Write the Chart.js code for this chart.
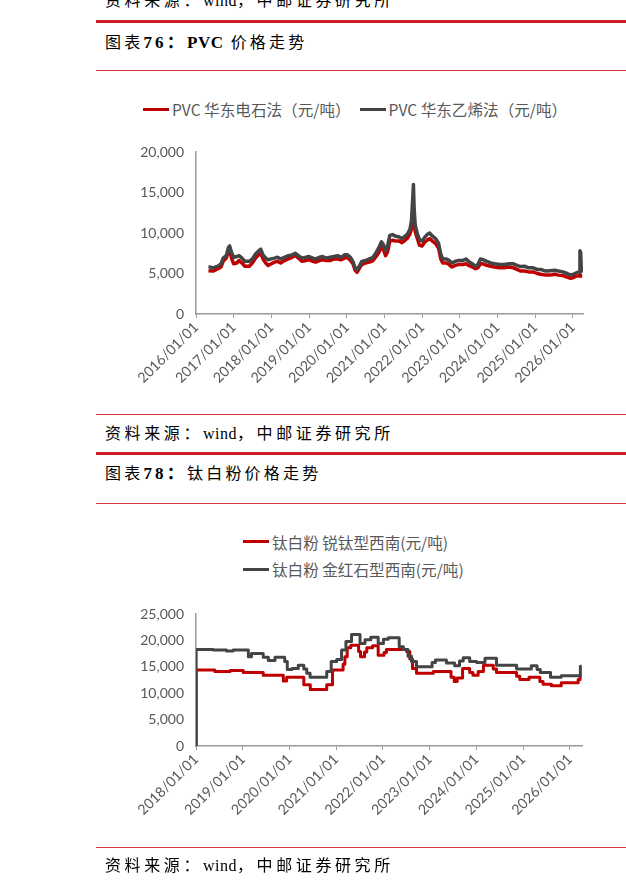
<!DOCTYPE html>
<html lang="zh-CN">
<head>
<meta charset="UTF-8">
<title>PVC / 钛白粉价格走势</title>
<script src="https://cdn.jsdelivr.net/npm/chart.js@4"></script>
<style>
  * { margin: 0; padding: 0; box-sizing: border-box; }
  body {
    width: 626px; height: 888px; overflow: hidden;
    background: #fff; position: relative;
    font-family: 'Liberation Serif', 'Noto Sans CJK SC', serif;
    color: #000;
  }
  .rule { position: absolute; left: 96px; right: 0; }
  .thick { height: 3px; background: #cc1d25; }
  .thin { height: 1px; background: #d9363e; }
  .note, .title {
    position: absolute; left: 105px;
    font-size: 16px; line-height: 18px; white-space: nowrap;
  }
  .note { letter-spacing: 3.6px; }
  .title { letter-spacing: 3.2px; }
  .note span, .title span { letter-spacing: 0.5px; }
  .title b { font-size: 17px; }
  .legend {
    position: absolute;
    font-family: 'Noto Sans CJK SC', sans-serif; font-size: 15.6px; color: #595959;
  }
  .legend.row { display: flex; gap: 9px; }
  .item { display: flex; align-items: center; white-space: nowrap; height: 18px; }
  .legend.col .item { height: 27.6px; }
  .item i { display: inline-block; width: 26px; height: 3px; margin-right: 3px; }
  .chart { position: absolute; left: 120px; width: 480px; }
</style>
</head>
<body>
  <div class="note" style="top:-8px">资料来源：<span>wind</span>，中邮证券研究所</div>
  <div class="rule thick" style="top:20px"></div>
  <div class="title" style="top:34px">图表<b>76：<span>PVC</span></b> 价格走势</div>
  <div class="rule thin" style="top:70px"></div>

  <div class="legend row" style="left:143px; top:100px">
    <div class="item"><i style="background:#c00000"></i>PVC 华东电石法（元/吨）</div>
    <div class="item"><i style="background:#444"></i>PVC 华东乙烯法（元/吨）</div>
  </div>
  <div class="chart" style="top:130px; height:270px"><canvas id="pvcChart"></canvas></div>

  <div class="rule thin" style="top:414px"></div>
  <div class="note" style="top:425px">资料来源：<span>wind</span>，中邮证券研究所</div>
  <div class="rule thick" style="top:452px"></div>
  <div class="title" style="top:465px">图表<b>78：</b>钛白粉价格走势</div>
  <div class="rule thin" style="top:503px"></div>

  <div class="legend col" style="left:243px; top:528px">
    <div class="item"><i style="background:#c00000"></i>钛白粉 锐钛型西南(元/吨)</div>
    <div class="item"><i style="background:#444"></i>钛白粉 金红石型西南(元/吨)</div>
  </div>
  <div class="chart" style="top:595px; height:255px"><canvas id="tio2Chart"></canvas></div>

  <div class="rule thin" style="top:847px"></div>
  <div class="note" style="top:857px">资料来源：<span>wind</span>，中邮证券研究所</div>

<script>
// ---- PVC (元/吨) ----
const pvcDates = [
  '2016-05-01','2016-06-14','2016-08-01','2016-08-30','2016-09-20','2016-10-20','2016-11-10','2016-11-22','2016-12-10',
  '2017-01-01','2017-02-01','2017-02-22','2017-03-22','2017-04-20','2017-06-01','2017-07-01','2017-08-01','2017-08-30','2017-09-20','2017-10-12','2017-11-07','2017-12-01',
  '2018-01-01','2018-02-01','2018-03-01','2018-04-01','2018-05-08','2018-06-14','2018-07-20','2018-08-20','2018-09-20','2018-10-26','2018-12-01',
  '2019-01-01','2019-02-07','2019-03-07','2019-04-12','2019-05-12','2019-06-18','2019-07-24','2019-08-30','2019-10-05','2019-11-10','2019-12-10',
  '2020-01-08','2020-02-06','2020-03-01','2020-03-22','2020-04-10','2020-05-01','2020-05-26','2020-07-01','2020-08-07','2020-09-12','2020-10-12','2020-11-07','2020-12-02','2020-12-20',
  '2021-01-12','2021-02-01','2021-02-22','2021-03-22','2021-04-20','2021-05-26','2021-06-20','2021-07-20','2021-08-14','2021-09-06','2021-09-20','2021-10-01','2021-10-09','2021-10-16','2021-10-26','2021-11-14','2021-12-06',
  '2022-01-01','2022-01-22','2022-02-18','2022-03-14','2022-04-12','2022-05-12','2022-06-10','2022-07-01','2022-07-20','2022-08-25','2022-09-20','2022-10-16','2022-11-18','2022-12-20',
  '2023-02-01','2023-03-01','2023-03-28','2023-05-01','2023-06-03','2023-06-25','2023-07-20','2023-08-14','2023-09-20','2023-10-26','2023-12-05',
  '2024-01-20','2024-03-07','2024-04-20','2024-06-03','2024-07-08','2024-08-14','2024-09-20','2024-10-26','2024-12-12',
  '2025-01-20','2025-02-24','2025-04-12','2025-05-26','2025-07-08','2025-08-14','2025-09-27','2025-11-07','2025-12-10',
  '2026-01-08','2026-02-06','2026-03-04','2026-03-11','2026-03-18','2026-03-25','2026-04-02'
];
const pvcCarbide = [
  5350,5300,5600,5800,6500,6900,7700,7900,6900,
  6200,6300,6600,6300,5900,5900,6300,6900,7300,7500,6800,6300,6000,
  6200,6400,6500,6300,6600,6800,7000,7200,6900,6500,6600,
  6700,6500,6400,6600,6700,6600,6600,6800,6800,6700,6900,
  7000,6600,6200,5400,5150,5600,6100,6300,6400,6600,7100,7600,8300,8000,
  7200,7700,9000,9100,9000,9000,8800,9100,9400,9900,10500,11500,12200,11500,10200,9400,8500,
  8400,8800,9100,9300,9000,8700,8100,6800,6300,6300,6100,5800,6000,6100,
  6100,6200,6000,5800,5600,5700,6200,6200,6000,5900,5800,
  5700,5700,5800,5700,5500,5300,5300,5200,5200,
  5000,4900,4800,4800,4900,4800,4750,4550,4400,
  4500,4700,4700,4800,4750,4700,4700
];
const pvcEthylene = [
  5850,5700,5900,6200,6900,7200,8200,8400,7600,
  7000,7100,7200,6900,6500,6500,6800,7400,7800,8000,7300,6900,6700,
  6800,6900,7000,6800,7000,7200,7300,7500,7200,6900,7000,
  7100,6900,6800,7000,7100,6900,7000,7100,7200,7000,7300,
  7300,7000,6500,5700,5450,5900,6500,6600,6800,7000,7600,8200,8900,8600,
  7800,8400,9700,9800,9600,9500,9300,9600,9900,10500,11500,14000,16000,13000,11000,10000,9200,
  9000,9400,9800,10000,9600,9300,8700,7400,6800,6800,6600,6300,6500,6600,
  6600,6800,6500,6200,5900,6100,6800,6700,6500,6300,6200,
  6100,6100,6200,6200,6000,5850,5900,5700,5700,
  5500,5500,5300,5350,5400,5300,5200,5000,4800,
  4900,5100,5200,7800,7600,5200,5100
];
const pvcTickYears = [2016, 2017, 2018, 2019, 2020, 2021, 2022, 2023, 2024, 2025, 2026];
const pvcTickLabels = ['2016/01/01','2017/01/01','2018/01/01','2019/01/01','2020/01/01','2021/01/01','2022/01/01','2023/01/01','2024/01/01','2025/01/01','2026/01/01'];

// ---- 钛白粉 (元/吨), step changes ----
const anataseDates = [
  '2018-01-01','2018-01-02','2018-05-28','2018-09-24','2019-01-05','2019-06-10','2019-11-14','2019-12-10',
  '2020-04-22','2020-06-12','2020-10-18','2020-12-02','2021-02-24','2021-03-10','2021-03-28','2021-04-25',
  '2021-06-25','2021-07-10','2021-08-10','2021-08-28','2021-10-12','2021-11-25','2022-01-10','2022-01-28',
  '2022-07-05','2022-07-30','2022-08-20','2022-09-20','2023-01-30','2023-06-17','2023-07-12','2023-08-04',
  '2023-09-15','2023-11-10','2023-12-05','2024-01-15','2024-02-25','2024-05-12','2024-06-06','2024-11-10',
  '2024-12-05','2025-02-16','2025-05-12','2025-06-06','2025-08-10','2025-10-26','2026-03-07','2026-03-22','2026-04-03'
];
const anataseValues = [
  0,14400,14100,14300,13900,13400,12300,13000,
  11600,10700,11600,14400,15500,16900,18600,19100,
  17900,16900,17800,18600,19000,17200,17700,18300,
  17900,16500,14700,13800,14100,13000,12200,12900,
  14700,13900,13400,14100,15300,14600,13900,13200,
  12600,13000,12200,11700,11400,12000,12600,13100,13100
];
const rutileDates = [
  '2018-01-01','2018-01-02','2018-05-15','2018-08-28','2018-10-18','2019-02-14','2019-03-10','2019-06-10',
  '2019-07-20','2019-09-10','2019-11-25','2019-12-15','2020-01-20','2020-03-10','2020-04-22','2020-05-15',
  '2020-06-10','2020-10-18','2020-11-22','2021-01-05','2021-02-12','2021-03-18','2021-05-01','2021-07-06',
  '2021-08-14','2021-09-28','2021-11-25','2022-01-05','2022-02-12','2022-05-08','2022-06-10','2022-07-16',
  '2022-08-12','2022-09-20','2023-01-20','2023-02-15','2023-05-12','2023-07-15','2023-08-22','2023-09-20',
  '2023-11-10','2024-01-04','2024-03-08','2024-06-06','2024-11-10','2025-03-06','2025-04-20','2025-05-15',
  '2025-08-03','2025-10-26','2026-03-24','2026-04-03'
];
const rutileValues = [
  0,18300,18200,18000,18200,16900,17500,16800,
  16200,16800,16000,14500,14700,15300,14600,13800,
  13000,14100,16000,16400,18200,19800,21100,19400,
  20100,20600,19400,20200,20500,18800,18300,17000,
  16000,15000,15800,16300,15700,15200,16100,16700,
  16000,15800,16600,15300,14600,15200,14500,13900,
  13000,13300,15100,15100
];
const tio2TickYears = [2018, 2019, 2020, 2021, 2022, 2023, 2024, 2025, 2026];
const tio2TickLabels = ['2018/01/01','2019/01/01','2020/01/01','2021/01/01','2022/01/01','2023/01/01','2024/01/01','2025/01/01','2026/01/01'];

const RED = '#c00000';
const GRAY = '#444444';
const AXIS = '#9a9a9a';
const TEXT = '#595959';

function toYear(s) {
  const [y, m, d] = s.split('-').map(Number);
  const days = (Date.UTC(y, m - 1, d) - Date.UTC(y, 0, 1)) / 86400000;
  return y + days / 365;
}
function points(dates, values) {
  return dates.map((d, i) => ({ x: toYear(d), y: values[i] }));
}

function makeOptions(o) {
  return {
    responsive: true,
    maintainAspectRatio: false,
    animation: false,
    layout: { padding: { left: 0, top: o.padTop, right: o.padRight, bottom: 0 } },
    plugins: { legend: { display: false }, tooltip: { enabled: false } },
    elements: { point: { radius: 0 }, line: { borderJoinStyle: 'round' } },
    scales: {
      x: {
        type: 'linear',
        min: o.xMin, max: o.xMax,
        afterBuildTicks: s => { s.ticks = o.tickYears.map(v => ({ value: v })); },
        afterFit: s => { s.height = o.xHeight; },
        grid: { display: true, drawOnChartArea: false, drawTicks: true, tickLength: 4, color: AXIS, lineWidth: 1 },
        border: { display: true, color: AXIS, width: 1.5 },
        ticks: {
          autoSkip: false, maxRotation: 45, minRotation: 45, padding: 1,
          color: TEXT, font: { family: 'Lato', size: 14.2 },
          callback: (v, i) => o.tickLabels[i]
        }
      },
      y: {
        min: 0, max: o.yMax,
        afterFit: s => { s.width = 76; },
        grid: { display: false },
        border: { display: true, color: AXIS, width: 1.5 },
        ticks: {
          stepSize: o.yStep, padding: 4,
          color: TEXT, font: { family: 'Lato', size: 14 },
          callback: v => v.toLocaleString('en-US')
        }
      }
    }
  };
}

new Chart(document.getElementById('pvcChart'), {
  type: 'line',
  data: {
    datasets: [
      { label: 'PVC 华东乙烯法（元/吨）', data: points(pvcDates, pvcEthylene), borderColor: GRAY, borderWidth: 3.5, order: 0 },
      { label: 'PVC 华东电石法（元/吨）', data: points(pvcDates, pvcCarbide), borderColor: RED, borderWidth: 3.5, order: 1 }
    ]
  },
  options: makeOptions({
    xMin: 2016, xMax: 2026.27, tickYears: pvcTickYears, tickLabels: pvcTickLabels,
    yMax: 20000, yStep: 5000, xHeight: 86, padTop: 22, padRight: 17
  })
});

new Chart(document.getElementById('tio2Chart'), {
  type: 'line',
  data: {
    datasets: [
      { label: '钛白粉 金红石型西南(元/吨)', data: points(rutileDates, rutileValues), borderColor: GRAY, borderWidth: 3, stepped: 'before', order: 0 },
      { label: '钛白粉 锐钛型西南(元/吨)', data: points(anataseDates, anataseValues), borderColor: RED, borderWidth: 3, stepped: 'before', order: 1 }
    ]
  },
  options: makeOptions({
    xMin: 2018, xMax: 2026.26, tickYears: tio2TickYears, tickLabels: tio2TickLabels,
    yMax: 25000, yStep: 5000, xHeight: 104, padTop: 19, padRight: 18
  })
});
</script>
</body>
</html>
